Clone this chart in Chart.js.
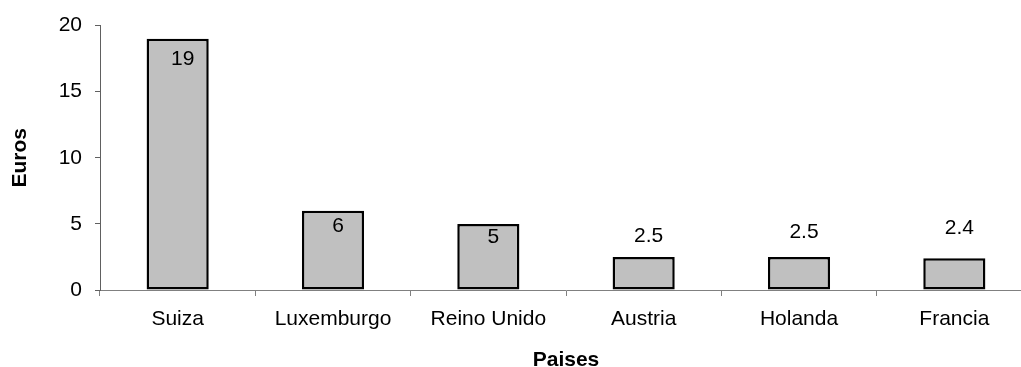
<!DOCTYPE html>
<html>
<head>
<meta charset="utf-8">
<script src="https://cdn.jsdelivr.net/npm/chart.js@4/dist/chart.umd.min.js"></script>
<style>
  html, body { margin: 0; padding: 0; background: #fff; overflow: hidden; width: 1021px; height: 367px; }
  #wrap { position: absolute; left: 0; top: 0; width: 1035px; height: 367px; }
</style>
</head>
<body>
<div id="wrap"><canvas id="c"></canvas></div>
<script>
const categories = ['Suiza', 'Luxemburgo', 'Reino Unido', 'Austria', 'Holanda', 'Francia'];
const values = [19, 6, 5, 2.5, 2.5, 2.4];
const valueLabels = ['19', '6', '5', '2.5', '2.5', '2.4'];
const yTicks = [0, 5, 10, 15, 20];
const xTitle = 'Paises';
const yTitle = 'Euros';

const FONT = '"Liberation Sans", Arial, Helvetica, sans-serif';

const labelPlugin = {
  id: 'barLabels',
  afterDatasetsDraw(chart, args, opts) {
    const ctx = chart.ctx;
    const meta = chart.getDatasetMeta(0);
    ctx.save();
    ctx.font = '21px ' + FONT;
    ctx.fillStyle = '#000';
    ctx.textAlign = 'center';
    ctx.textBaseline = 'middle';
    meta.data.forEach((bar, i) => {
      const dy = opts.offsets[i];
      ctx.fillText(valueLabels[i], bar.x + opts.dx, bar.y + dy);
    });
    ctx.restore();
  }
};

new Chart(document.getElementById('c'), {
  type: 'bar',
  data: {
    labels: categories,
    datasets: [{
      data: values,
      backgroundColor: '#c0c0c0',
      borderColor: '#000',
      borderWidth: 2.5,
      borderSkipped: false,
      categoryPercentage: 1,
      barPercentage: 0.4
    }]
  },
  options: {
    responsive: true,
    maintainAspectRatio: false,
    animation: false,
    events: [],
    layout: { padding: { top: 23, right: 3, left: 0, bottom: 0 } },
    plugins: {
      legend: { display: false },
      tooltip: { enabled: false },
      barLabels: { dx: 5, offsets: [20.5, 16, 13.5, -20.5, -24.5, -30] }
    },
    scales: {
      x: {
        offset: true,
        grid: { display: true, offset: true, drawOnChartArea: false, tickLength: 6, color: '#808080', tickColor: '#808080' },
        border: { display: true, color: '#808080', width: 1 },
        ticks: { color: '#000', font: { family: FONT, size: 21 }, padding: 11, maxRotation: 0, autoSkip: false },
        title: { display: true, text: xTitle, color: '#000', font: { family: FONT, size: 21, weight: 'bold', lineHeight: 1 }, padding: { top: 0, bottom: -3.5 } },
        afterFit(scale) { scale.height = 77; }
      },
      y: {
        min: 0,
        max: 20,
        afterBuildTicks(scale) { scale.ticks = yTicks.map(v => ({ value: v })); },
        grid: { display: true, drawOnChartArea: false, tickLength: 5, color: '#606060', tickColor: '#606060' },
        border: { display: true, color: '#606060', width: 1 },
        ticks: { color: '#000', font: { family: FONT, size: 21 }, padding: 13 },
        title: { display: true, text: yTitle, color: '#000', font: { family: FONT, size: 21, weight: 'bold', lineHeight: 1 }, padding: { top: 9.5, bottom: 0 } },
        afterFit(scale) { scale.width = 100; }
      }
    }
  },
  plugins: [labelPlugin]
});
</script>
</body>
</html>
